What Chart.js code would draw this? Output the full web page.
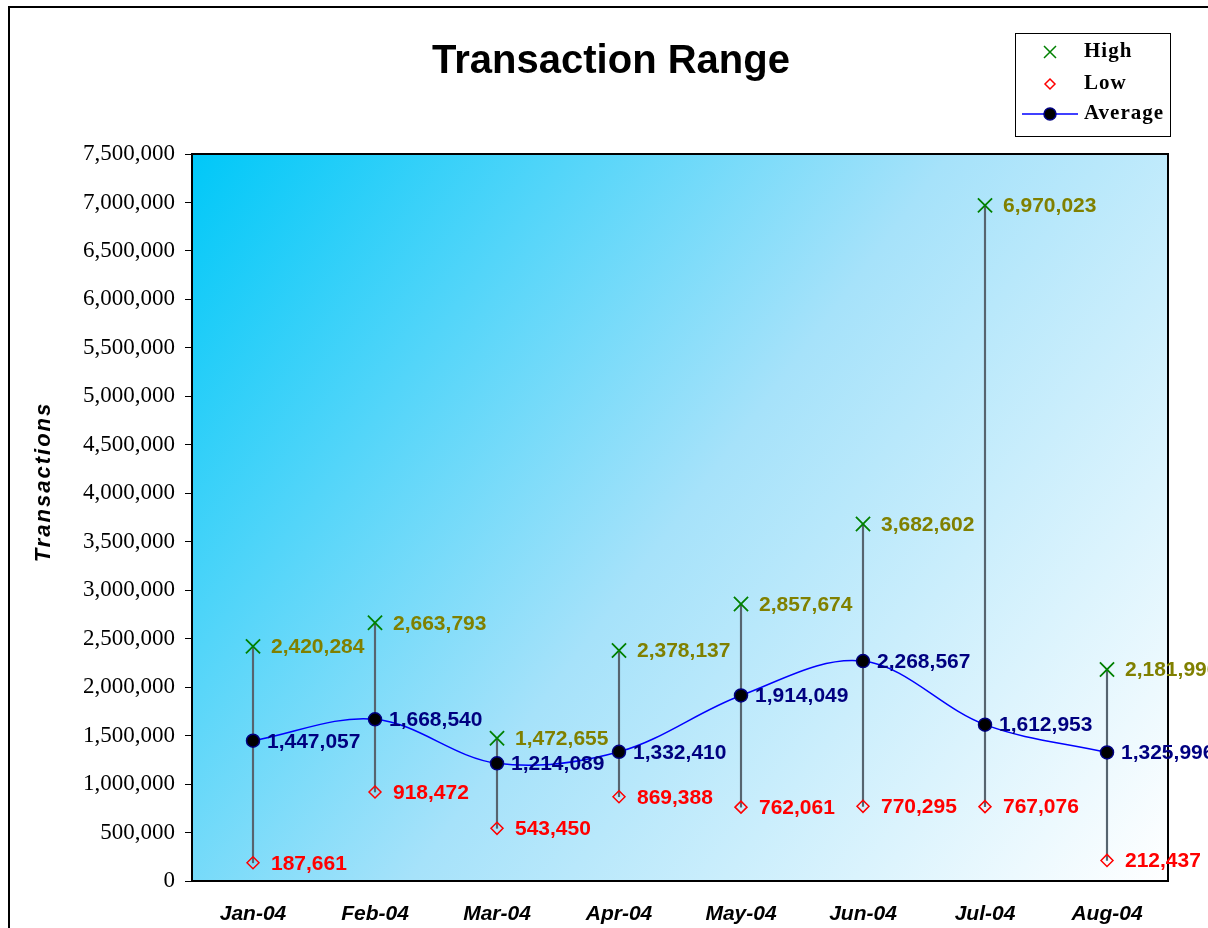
<!DOCTYPE html>
<html>
<head>
<meta charset="utf-8">
<script src="https://cdn.jsdelivr.net/npm/chart.js@4"></script>
<style>
  html, body { margin: 0; padding: 0; background: #fff; }
  #wrap { width: 1208px; height: 928px; }
</style>
</head>
<body>
<div id="wrap"><canvas id="chart" width="1208" height="928"></canvas></div>
<script>
const months = ["Jan-04", "Feb-04", "Mar-04", "Apr-04", "May-04", "Jun-04", "Jul-04", "Aug-04"];
const high = [2420284, 2663793, 1472655, 2378137, 2857674, 3682602, 6970023, 2181996];
const low = [187661, 918472, 543450, 869388, 762061, 770295, 767076, 212437];
const average = [1447057, 1668540, 1214089, 1332410, 1914049, 2268567, 1612953, 1325996];
const yMax = 7500000;
const yStep = 500000;

const fmt = (v) => v.toLocaleString("en-US");

const frame = {
  id: "frame",
  beforeDraw(chart) {
    const { ctx, chartArea: a } = chart;
    ctx.save();
    const g = ctx.createLinearGradient(a.left, a.top, a.right, a.bottom);
    g.addColorStop(0, "#00c8f8");
    g.addColorStop(0.5, "#a6e2fa");
    g.addColorStop(1, "#ffffff");
    ctx.fillStyle = g;
    ctx.fillRect(a.left, a.top, a.right - a.left, a.bottom - a.top);
    ctx.restore();
  },
  beforeDatasetsDraw(chart) {
    const { ctx, chartArea: a } = chart;
    ctx.save();
    ctx.strokeStyle = "#000";
    ctx.lineWidth = 2;
    ctx.strokeRect(a.left, a.top, a.right - a.left, a.bottom - a.top);
    ctx.restore();
  },
  afterDraw(chart) {
    const { ctx } = chart;
    ctx.save();
    // outer frame
    ctx.strokeStyle = "#000";
    ctx.lineWidth = 2;
    ctx.strokeRect(9, 7, 1300, 1000);
    // title
    ctx.fillStyle = "#000";
    ctx.font = "bold 40px 'Liberation Sans', Arial, sans-serif";
    ctx.textAlign = "center";
    ctx.textBaseline = "middle";
    ctx.fillText("Transaction Range", 611, 62);
    // y title
    ctx.save();
    ctx.translate(44, 482);
    ctx.rotate(-Math.PI / 2);
    ctx.font = "italic bold 22px 'Liberation Sans', Arial, sans-serif";
    ctx.letterSpacing = "2px";
    ctx.fillText("Transactions", 0, 0);
    ctx.restore();
    // legend
    ctx.fillStyle = "#fff";
    ctx.fillRect(1015, 33, 155, 103);
    ctx.lineWidth = 1;
    ctx.strokeRect(1015.5, 33.5, 155, 103);
    ctx.font = "bold 21px 'Liberation Serif', 'Times New Roman', serif";
    ctx.letterSpacing = "1px";
    ctx.textAlign = "left";
    ctx.fillStyle = "#000";
    ctx.fillText("High", 1084, 52);
    ctx.fillText("Low", 1084, 84);
    ctx.fillText("Average", 1084, 114);
    ctx.letterSpacing = "0px";
    ctx.strokeStyle = "#008000";
    ctx.lineWidth = 1.5;
    ctx.beginPath();
    ctx.moveTo(1044, 46); ctx.lineTo(1056, 58);
    ctx.moveTo(1056, 46); ctx.lineTo(1044, 58);
    ctx.stroke();
    ctx.strokeStyle = "#ff0000";
    ctx.beginPath();
    ctx.moveTo(1050, 79); ctx.lineTo(1055, 84); ctx.lineTo(1050, 89); ctx.lineTo(1045, 84); ctx.closePath();
    ctx.stroke();
    ctx.strokeStyle = "#0000ff";
    ctx.beginPath();
    ctx.moveTo(1022, 114); ctx.lineTo(1078, 114);
    ctx.stroke();
    ctx.fillStyle = "#000";
    ctx.strokeStyle = "#000080";
    ctx.beginPath();
    ctx.arc(1050, 114, 6, 0, Math.PI * 2);
    ctx.fill();
    ctx.stroke();
    ctx.restore();
  },
  afterDatasetsDraw(chart) {
    const { ctx } = chart;
    const sets = [
      { idx: 1, values: high, color: "#808000", dx: 18 },
      { idx: 2, values: low, color: "#ff0000", dx: 18 },
      { idx: 3, values: average, color: "#000080", dx: 14 },
    ];
    ctx.save();
    ctx.font = "bold 21px 'Liberation Sans', Arial, sans-serif";
    ctx.textAlign = "left";
    ctx.textBaseline = "middle";
    sets.forEach((s) => {
      const meta = chart.getDatasetMeta(s.idx);
      ctx.fillStyle = s.color;
      meta.data.forEach((pt, i) => {
        ctx.fillText(fmt(s.values[i]), pt.x + s.dx, pt.y + 1);
      });
    });
    ctx.restore();
  },
};

new Chart(document.getElementById("chart"), {
  data: {
    labels: months,
    datasets: [
      {
        type: "bar",
        label: "Range",
        data: months.map((m, i) => [low[i], high[i]]),
        backgroundColor: "#56646f",
        barThickness: 1.5,
        order: 4,
      },
      {
        type: "line",
        label: "High",
        data: high,
        showLine: false,
        pointStyle: "crossRot",
        pointRadius: 10,
        pointBorderColor: "#008000",
        pointBorderWidth: 1.8,
        order: 1,
      },
      {
        type: "line",
        label: "Low",
        data: low,
        showLine: false,
        pointStyle: "rectRot",
        pointRadius: 6,
        pointBackgroundColor: "rgba(0,0,0,0)",
        pointBorderColor: "#ff0000",
        pointBorderWidth: 1.5,
        order: 2,
      },
      {
        type: "line",
        label: "Average",
        data: average,
        borderColor: "#0000ff",
        borderWidth: 1.5,
        tension: 0.35,
        pointStyle: "circle",
        pointRadius: 6.5,
        pointBackgroundColor: "#000",
        pointBorderColor: "#000080",
        pointBorderWidth: 1.5,
        order: 3,
      },
    ],
  },
  options: {
    responsive: false,
    animation: false,
    layout: { padding: { left: 10, top: 154, right: 40, bottom: 0 } },
    plugins: { legend: { display: false }, tooltip: { enabled: false }, title: { display: false } },
    scales: {
      x: {
        offset: true,
        grid: { display: false },
        border: { display: false },
        ticks: {
          color: "#000",
          padding: 13,
          font: { family: "'Liberation Sans', Arial, sans-serif", size: 21, weight: "bold", style: "italic" },
        },
        afterFit: (s) => { s.height = 47; },
      },
      y: {
        min: 0,
        max: yMax,
        grid: { drawOnChartArea: false, tickLength: 7, color: "#000" },
        border: { display: false },
        ticks: {
          stepSize: yStep,
          color: "#000",
          padding: 10,
          font: { family: "'Liberation Serif', 'Times New Roman', serif", size: 23 },
          callback: (v) => fmt(v),
        },
        afterFit: (s) => { s.width = 182; },
      },
    },
  },
  plugins: [frame],
});
</script>
</body>
</html>
